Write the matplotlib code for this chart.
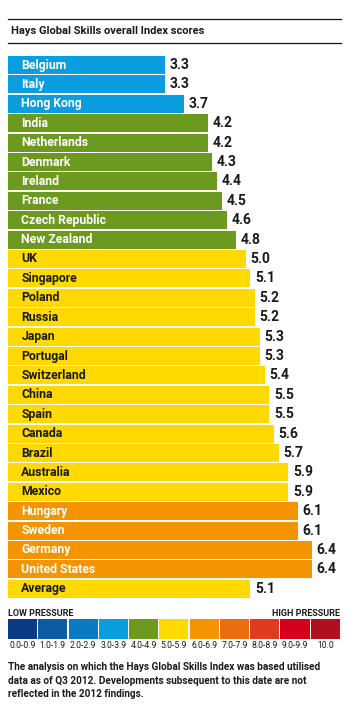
import matplotlib
matplotlib.use("Agg")
import matplotlib.pyplot as plt
from matplotlib.lines import Line2D
from matplotlib.patches import Rectangle

plt.rcParams['font.family'] = ['Roboto', 'DejaVu Sans']

countries = ['Belgium', 'Italy', 'Hong Kong', 'India', 'Netherlands', 'Denmark',
             'Ireland', 'France', 'Czech Republic', 'New Zealand', 'UK', 'Singapore',
             'Poland', 'Russia', 'Japan', 'Portugal', 'Switzerland', 'China', 'Spain',
             'Canada', 'Brazil', 'Australia', 'Mexico', 'Hungary', 'Sweden', 'Germany',
             'United States', 'Average']
scores = [3.3, 3.3, 3.7, 4.2, 4.2, 4.3, 4.4, 4.5, 4.6, 4.8, 5.0, 5.1, 5.2, 5.2,
          5.3, 5.3, 5.4, 5.5, 5.5, 5.6, 5.7, 5.9, 5.9, 6.1, 6.1, 6.4, 6.4, 5.1]

band_labels = ['0.0-0.9', '1.0-1.9', '2.0-2.9', '3.0-3.9', '4.0-4.9', '5.0-5.9',
               '6.0-6.9', '7.0-7.9', '8.0-8.9', '9.0-9.9', '10.0']
band_colors = ['#0c3b86', '#0b5ca3', '#0a7ac4', '#0a9de0', '#6b9a1e', '#ffd900',
               '#f39400', '#ec6c0e', '#e03b1c', '#d40019', '#b0101d']

W, H = 360, 719
fig = plt.figure(figsize=(W / 100, H / 100), dpi=100)

def fx(px):
    return px / W

def fy(py):
    return 1 - py / H

# header rules and title
for y in (19, 43):
    fig.add_artist(Line2D([fx(8), fx(341)], [fy(y), fy(y)], color='#111111', lw=0.9))
fig.text(fx(11), fy(31), 'Hays Global Skills overall Index scores', fontsize=8,
         fontweight='bold', color='#1a1a1a', va='center', ha='left')

# bars
ax = fig.add_axes([fx(8), fy(598.5), fx(332.5), 543.2 / H])
ax.set_xlim(0, 7)
ax.set_ylim(len(countries) - 0.5, -0.5)
ax.axis('off')
for i, (name, val) in enumerate(zip(countries, scores)):
    col = band_colors[int(val)]
    ax.barh(i, val, height=0.92, color=col, left=0)
    txt_col = '#1a1a1a' if int(val) == 5 else 'white'
    ax.text(0.28, i, name, color=txt_col, fontsize=8.8, fontweight='bold',
            va='center', ha='left')
    ax.text(val + 0.1, i, f'{val:.1f}', color='#1a1a1a', fontsize=10,
            fontweight='bold', va='center', ha='left')

# pressure scale
fig.text(fx(8), fy(614), 'LOW PRESSURE', fontsize=6.5, fontweight='bold',
         color='#1a1a1a', va='center', ha='left')
fig.text(fx(340), fy(614), 'HIGH PRESSURE', fontsize=6.5, fontweight='bold',
         color='#1a1a1a', va='center', ha='right')
lax = fig.add_axes([fx(8), fy(639), fx(333), 20 / H])
lax.set_xlim(0, len(band_labels))
lax.set_ylim(0, 1)
lax.axis('off')
for j, (lab, col) in enumerate(zip(band_labels, band_colors)):
    lax.add_patch(Rectangle((j, 0), 0.96, 1, color=col, lw=0))
    fig.text(fx(8 + (j + 0.48) * 333 / len(band_labels)), fy(645), lab,
             fontsize=6.2, color='#1a1a1a', ha='center', va='center')

note = ('The analysis on which the Hays Global Skills Index was based utilised\n'
        'data as of Q3 2012. Developments subsequent to this date are not\n'
        'reflected in the 2012 findings.')
fig.text(fx(8), fy(662), note, fontsize=7.2, fontweight='bold', color='#1a1a1a',
         va='top', ha='left', linespacing=1.45)

fig.savefig('out.png', dpi=100)
